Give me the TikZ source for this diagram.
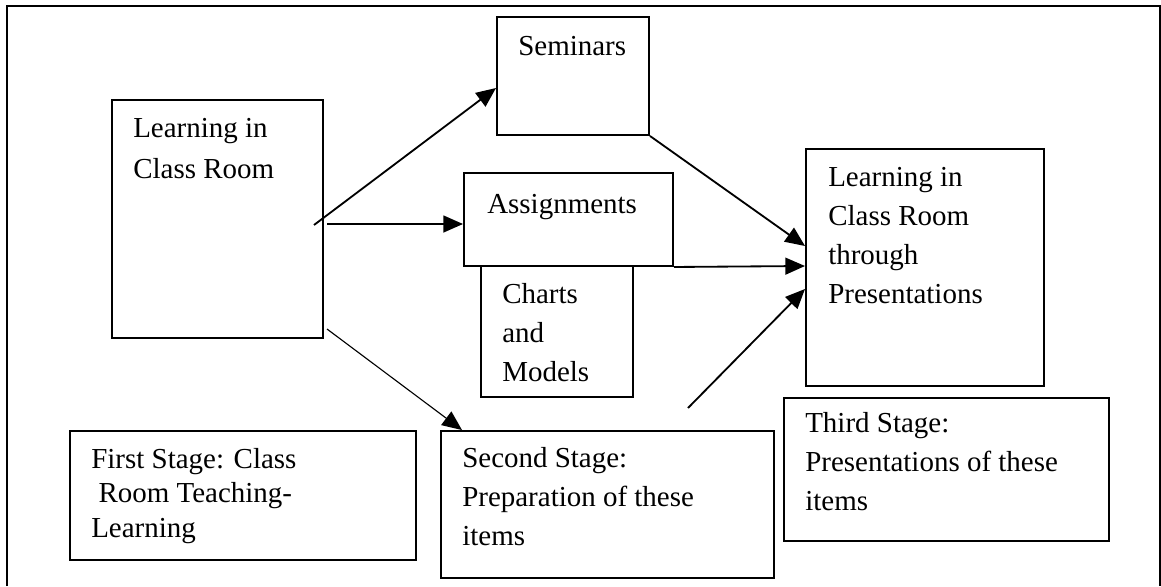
\documentclass[tikz,border=0pt]{standalone}
\usepackage{fontspec}
\setmainfont{Liberation Serif}
\usetikzlibrary{arrows.meta, fit, calc}

\tikzset{
  box/.style={draw, line width=1.4pt, inner sep=0pt},
  txt/.style={align=left, inner sep=0pt, font=\fontsize{20.6pt}{27.7pt}\selectfont},
  arr/.style={line width=1.3pt, -{Triangle[length=14pt,width=12pt]}}
}

\begin{document}
\begin{tikzpicture}[x=0.025cm, y=-0.025cm]
    \useasboundingbox (0,0) rectangle (1161,586);

    % Outer frame (open at the bottom)
    \draw[line width=1pt] (7,586) -- (7,6) -- (1160,6) -- (1160,586);

    % Draw the boxes
    \node[box, fit={(112,100) (323,338)}] (learn) {};
    \node[box, fit={(497,17) (649,135)}] (sem) {};
    \node[box, fit={(464,173) (673,266)}] (assign) {};
    \node[box, fit={(481,266) (633,397)}] (charts) {};
    \node[box, fit={(806,149) (1044,386)}] (pres) {};
    \node[box, fit={(70,431) (416,560)}] (first) {};
    \node[box, fit={(441,431) (774,578)}] (second) {};
    \node[box, fit={(784,398) (1109,541)}] (third) {};

    % Texts in the boxes (placed by the baseline of their last line)
    \node[txt, anchor=base west, font=\fontsize{20.6pt}{28.5pt}\selectfont] at (133,178) {Learning in\\Class Room};
    \node[txt, anchor=base west] at (518,55) {Seminars};
    \node[txt, anchor=base west] at (487,213) {Assignments};
    \node[txt, anchor=base west] at (502,381) {Charts\\and\\Models};
    \node[txt, anchor=base west] at (828,303) {Learning in\\Class Room\\through\\Presentations};
    \node[txt, anchor=base west, font=\fontsize{20.6pt}{24.5pt}\selectfont] at (91,537)
        {First Stage: Class\\\hspace*{0.25em}Room Teaching-\\Learning};
    \node[txt, anchor=base west] at (462,545) {Second Stage:\\Preparation of these\\items};
    \node[txt, anchor=base west] at (805,510) {Third Stage:\\Presentations of these\\items};

    % Free ends of the arrows
    \coordinate (s1) at (314,225);
    \coordinate (s2) at (327,224);
    \coordinate (s3) at (327,329);
    \coordinate (s6) at (688,408);

    % Arrows
    \draw[arr] (s1) -- (sem.west |- 0,88);
    \draw[arr] (s2) -- (assign.west |- 0,224);
    \draw[arr, line width=0.8pt] (s3) -- (second.north -| 462,0);
    \draw[arr] (sem.south east) -- (pres.west |- 0,246);
    \draw[arr] (assign.south east) -- (pres.west |- 0,266);
    \draw[arr] (s6) -- (pres.west |- 0,289);

\end{tikzpicture}
\end{document}
